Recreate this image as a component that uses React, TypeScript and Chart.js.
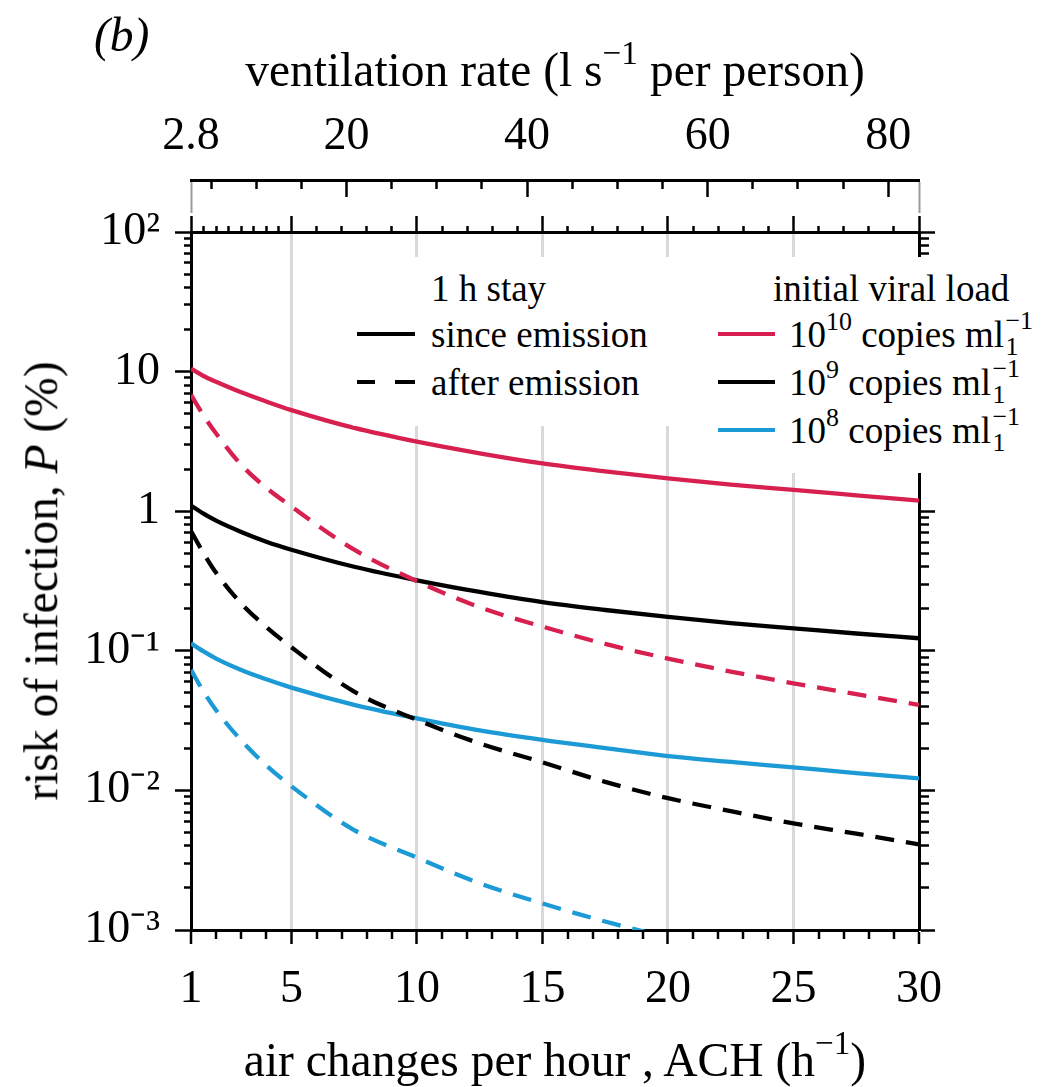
import React, { useEffect, useRef } from 'react';
import { Chart, registerables } from 'chart.js';

Chart.register(...registerables);

// ---------- data ----------
const ACH = [1, 1.5, 2, 3, 4, 5, 7.5, 10, 12.5, 15, 17.5, 20, 22.5, 25, 27.5, 30];
const SINCE_1E10 = [10.5, 9.3, 8.45, 7.1, 6.1, 5.3, 3.95, 3.15, 2.6, 2.2, 1.93, 1.72, 1.55, 1.42, 1.3, 1.19];
const SINCE_1E9 = [1.1, 0.96, 0.855, 0.71, 0.605, 0.53, 0.4, 0.32, 0.264, 0.223, 0.196, 0.175, 0.158, 0.145, 0.133, 0.123];
const SINCE_1E8 = [0.113, 0.099, 0.088, 0.0728, 0.0625, 0.0545, 0.041, 0.0328, 0.0269, 0.023, 0.0201, 0.0176, 0.016, 0.0146, 0.0133, 0.0122];
const AFTER_1E10 = [6.8, 4.85, 3.6, 2.15, 1.47, 1.08, 0.53, 0.315, 0.205, 0.149, 0.112, 0.088, 0.071, 0.0585, 0.049, 0.041];
const AFTER_1E9 = [0.72, 0.5, 0.362, 0.218, 0.148, 0.106, 0.051, 0.032, 0.0217, 0.0159, 0.0115, 0.0088, 0.0071, 0.0058, 0.0049, 0.0041];
const AFTER_1E8 = [0.073, 0.051, 0.0375, 0.0228, 0.0151, 0.0107, 0.0052, 0.0033, 0.00216, 0.00155, 0.00115, 0.00088, null, null, null, null];

// ---------- axes ----------
const X_MIN = 1;
const X_MAX = 30;
const X_MAJOR = [1, 5, 10, 15, 20, 25, 30];
const X_BOTTOM_TICKS: number[] = [];
for (let v = 1; v <= 30; v += 1) X_BOTTOM_TICKS.push(v);
const X_TOP_TICKS: number[] = [];
for (let v = 1; v < 5; v += 0.5) X_TOP_TICKS.push(v);
for (let v = 5; v <= 30; v += 1) X_TOP_TICKS.push(v);

const VENT_PER_ACH = 2.78; // l/s per person for 1 ACH
const VENT_MIN = VENT_PER_ACH * X_MIN;
const VENT_MAX = VENT_PER_ACH * X_MAX;
const VENT_MAJOR = [20, 40, 60, 80];
const VENT_TICKS: number[] = [VENT_MIN];
for (let v = 5; v <= 80; v += 5) VENT_TICKS.push(v);
VENT_TICKS.push(VENT_MAX);

const Y_MIN = 1e-3;
const Y_MAX = 1e2;
const Y_MAJOR = [1e-3, 1e-2, 1e-1, 1, 10, 100];
const Y_LABELS = ['10\u207B\u00B3', '10\u207B\u00B2', '10\u207B\u00B9', '1', '10', '10\u00B2'];
const Y_TICKS: number[] = [];
for (let k = -3; k <= 1; k++) for (let m = 1; m <= 9; m++) Y_TICKS.push(Number((m * Math.pow(10, k)).toPrecision(6)));
Y_TICKS.push(100);

// ---------- style ----------
const SERIF = "'Liberation Serif', 'Times New Roman', Times, serif";
const RED = '#d7204f';
const BLACK = '#000000';
const BLUE = '#1b9ad6';
const GRID = '#d9d9d9';
const W = 1053;
const H = 1087;
const AREA = { left: 191, right: 919, top: 232, bottom: 930 };
const VENT_LINE_PX_ABOVE = 52;

const near = (a: number, b: number) => Math.abs(a - b) < 1e-6;
const isXMajor = (v: number) => X_MAJOR.some((m) => near(m, v));
const isYMajor = (v: number) => Y_MAJOR.some((m) => Math.abs(m - v) / m < 1e-6);
const isVentEnd = (v: number) => near(v, VENT_MIN) || near(v, VENT_MAX);
const isVentMajor = (v: number) => VENT_MAJOR.some((m) => near(m, v));

function series(label: string, vals: (number | null)[], color: string, dashed: boolean) {
  return {
    label,
    data: ACH.map((x, i) => ({ x, y: vals[i] })),
    borderColor: color,
    backgroundColor: color,
    borderWidth: 4.3,
    borderDash: dashed ? [19, 12] : [],
    pointRadius: 0,
    fill: false,
    cubicInterpolationMode: 'monotone' as const,
    spanGaps: false,
    xAxisID: 'x',
    yAxisID: 'y',
  };
}

function Sup({ children, size }: { children: any; size: number }) {
  return (
    <span style={{ fontSize: size * 0.7, position: 'relative', top: -size * 0.45, lineHeight: 0 }}>{children}</span>
  );
}

function MlUnit({ size }: { size: number }) {
  const s = size * 0.7;
  return (
    <span>
      ml
      <span style={{ display: 'inline-block', position: 'relative', width: size * 0.78, height: 1 }}>
        <span style={{ position: 'absolute', left: size * 0.04, top: -size * 0.45 - s * 0.82, fontSize: s, lineHeight: 1 }}>{'\u22121'}</span>
        <span style={{ position: 'absolute', left: size * 0.04, top: size * 0.25 - s * 0.82, fontSize: s, lineHeight: 1 }}>1</span>
      </span>
    </span>
  );
}

function Txt({ x, y, size, children, style }: { x: number; y: number; size: number; children: any; style?: any }) {
  return (
    <div
      style={{
        position: 'absolute',
        left: x,
        top: y - size * 0.49,
        fontSize: size,
        lineHeight: 1,
        whiteSpace: 'nowrap',
        fontFamily: SERIF,
        color: '#000',
        ...style,
      }}
    >
      {children}
    </div>
  );
}

function LineSample({ x, y, len, color, dashed }: { x: number; y: number; len: number; color: string; dashed?: boolean }) {
  if (!dashed) {
    return <div style={{ position: 'absolute', left: x, top: y - 2, width: len, height: 4, background: color }} />;
  }
  return (
    <>
      <div style={{ position: 'absolute', left: x, top: y - 2, width: 18, height: 4, background: color }} />
      <div style={{ position: 'absolute', left: x + 38, top: y - 2, width: len - 38, height: 4, background: color }} />
    </>
  );
}

export default function App() {
  const ref = useRef<HTMLCanvasElement | null>(null);

  useEffect(() => {
    if (!ref.current) return;
    const ventLineValue = Math.pow(10, Math.log10(Y_MAX) + VENT_LINE_PX_ABOVE / ((AREA.bottom - AREA.top) / 5));
    const tickFont = { family: SERIF, size: 46 };
    const chart = new Chart(ref.current, {
      type: 'line',
      data: {
        datasets: [
          series('10^9 after emission', AFTER_1E9, BLACK, true),
          series('10^8 after emission', AFTER_1E8, BLUE, true),
          series('10^10 after emission', AFTER_1E10, RED, true),
          series('10^9 since emission', SINCE_1E9, BLACK, false),
          series('10^8 since emission', SINCE_1E8, BLUE, false),
          series('10^10 since emission', SINCE_1E10, RED, false),
        ],
      },
      options: {
        animation: false,
        responsive: false,
        devicePixelRatio: 1,
        events: [],
        layout: { padding: 0 },
        plugins: { legend: { display: false }, tooltip: { enabled: false }, title: { display: false } },
        scales: {
          x: {
            type: 'linear',
            axis: 'x',
            position: 'bottom',
            min: X_MIN,
            max: X_MAX,
            afterBuildTicks: (s: any) => {
              s.ticks = X_BOTTOM_TICKS.map((v) => ({ value: v }));
            },
            afterFit: (s: any) => {
              s.height = H - AREA.bottom;
            },
            ticks: {
              autoSkip: false,
              maxRotation: 0,
              minRotation: 0,
              padding: 18,
              color: '#000',
              font: tickFont,
              callback: (v: any) => (isXMajor(Number(v)) ? String(v) : ''),
            },
            grid: {
              drawOnChartArea: true,
              drawTicks: true,
              tickLength: 14,
              color: (c: any) => {
                const v = c.tick ? c.tick.value : 0;
                return isXMajor(v) && v > X_MIN && v < X_MAX ? GRID : 'rgba(0,0,0,0)';
              },
              lineWidth: (c: any) => {
                const v = c.tick ? c.tick.value : 0;
                return isXMajor(v) && v > X_MIN && v < X_MAX ? 3 : 0;
              },
              tickColor: '#000',
              tickWidth: 2.5,
              tickBorderDash: (c: any) => (c.tick && isXMajor(c.tick.value) ? [] : [7, 100]),
            },
            border: { display: true, color: '#000', width: 3 },
          },
          xTop: {
            type: 'linear',
            axis: 'x',
            position: 'top',
            min: X_MIN,
            max: X_MAX,
            afterBuildTicks: (s: any) => {
              s.ticks = X_TOP_TICKS.map((v) => ({ value: v }));
            },
            afterFit: (s: any) => {
              s.height = AREA.top;
            },
            ticks: { display: false },
            grid: {
              drawOnChartArea: false,
              drawTicks: true,
              tickLength: 16,
              tickColor: '#000',
              tickWidth: 2.5,
              tickBorderDash: (c: any) => (c.tick && isXMajor(c.tick.value) ? [] : [0, 10, 6, 100]),
            },
            border: { display: true, color: '#000', width: 3 },
          },
          vent: {
            type: 'linear',
            axis: 'x',
            position: { y: ventLineValue },
            min: VENT_MIN,
            max: VENT_MAX,
            afterBuildTicks: (s: any) => {
              s.ticks = VENT_TICKS.map((v) => ({ value: v }));
            },
            ticks: {
              autoSkip: false,
              maxRotation: 0,
              minRotation: 0,
              padding: -102,
              color: '#000',
              font: tickFont,
              callback: (v: any) => {
                const n = Number(v);
                if (near(n, VENT_MIN)) return '2.8';
                return isVentMajor(n) ? String(n) : '';
              },
            },
            grid: {
              drawOnChartArea: false,
              drawTicks: true,
              tickLength: 31,
              tickColor: (c: any) => (c.tick && isVentEnd(c.tick.value) ? '#9a9a9a' : '#000'),
              tickWidth: (c: any) => (c.tick && isVentEnd(c.tick.value) ? 2 : 2.5),
              tickBorderDash: (c: any) => {
                const v = c.tick ? c.tick.value : 0;
                if (isVentEnd(v)) return [];
                return isVentMajor(v) ? [15, 100] : [7, 100];
              },
            },
            border: { display: true, color: '#000', width: 3 },
          },
          y: {
            type: 'logarithmic',
            axis: 'y',
            position: 'left',
            min: Y_MIN,
            max: Y_MAX,
            afterBuildTicks: (s: any) => {
              s.ticks = Y_TICKS.map((v) => ({ value: v }));
            },
            afterFit: (s: any) => {
              s.width = AREA.left;
            },
            ticks: {
              autoSkip: false,
              padding: 15,
              color: '#000',
              font: tickFont,
              callback: (v: any) => {
                const n = Number(v);
                const idx = Y_MAJOR.findIndex((m) => Math.abs(m - n) / m < 1e-6);
                return idx >= 0 ? Y_LABELS[idx] : '';
              },
            },
            grid: {
              drawOnChartArea: false,
              drawTicks: true,
              tickLength: 16,
              tickColor: '#000',
              tickWidth: 2.5,
              tickBorderDash: (c: any) => (c.tick && isYMajor(c.tick.value) ? [] : [0, 9, 7, 100]),
            },
            border: { display: true, color: '#000', width: 3 },
          },
          yRight: {
            type: 'logarithmic',
            axis: 'y',
            position: 'right',
            min: Y_MIN,
            max: Y_MAX,
            afterBuildTicks: (s: any) => {
              s.ticks = Y_TICKS.map((v) => ({ value: v }));
            },
            afterFit: (s: any) => {
              s.width = W - AREA.right;
            },
            ticks: { display: false },
            grid: {
              drawOnChartArea: false,
              drawTicks: true,
              tickLength: 16,
              tickColor: '#000',
              tickWidth: 2.5,
              tickBorderDash: (c: any) => (c.tick && isYMajor(c.tick.value) ? [] : [8, 100]),
            },
            border: { display: true, color: '#000', width: 3 },
          },
        },
      } as any,
    });
    return () => chart.destroy();
  }, []);

  const LF = 37; // legend font size
  const TF = 47.5; // axis title font size
  return (
    <div style={{ position: 'absolute', left: 0, top: 0, width: W, height: H, background: '#fff', overflow: 'hidden', fontFamily: SERIF }}>
      <canvas ref={ref} width={W} height={H} style={{ position: 'absolute', left: 0, top: 0, width: W, height: H }} />

      {/* panel label */}
      <Txt x={94} y={35} size={TF} style={{ fontStyle: 'italic' }}>(b)</Txt>

      {/* top axis title */}
      <Txt x={555} y={70} size={TF} style={{ transform: 'translateX(-50%)' }}>
        ventilation rate (l s<Sup size={TF}>{'\u22121'}</Sup> per person)
      </Txt>

      {/* bottom axis title */}
      <Txt x={555} y={1060} size={TF} style={{ transform: 'translateX(-50%)' }}>
        air changes per hour , ACH (h<Sup size={TF}>{'\u22121'}</Sup>)
      </Txt>

      {/* y axis title */}
      <div
        style={{
          position: 'absolute',
          left: 42,
          top: 581,
          transform: 'translate(-50%, -50%) rotate(-90deg)',
          fontSize: TF,
          lineHeight: 1,
          whiteSpace: 'nowrap',
          fontFamily: SERIF,
        }}
      >
        risk of infection, <i>P</i> (%)
      </div>

      {/* legend 1 */}
      <div style={{ position: 'absolute', left: 353, top: 257, width: 337, height: 169, background: '#fff' }} />
      <Txt x={431} y={288} size={LF}>1 h stay</Txt>
      <LineSample x={357} y={334} len={58} color={BLACK} />
      <Txt x={431} y={334} size={LF}>since emission</Txt>
      <LineSample x={357} y={382} len={58} color={BLACK} dashed />
      <Txt x={431} y={382} size={LF}>after emission</Txt>

      {/* legend 2 */}
      <div style={{ position: 'absolute', left: 700, top: 257, width: 345, height: 216, background: '#fff' }} />
      <Txt x={773} y={288} size={LF}>initial viral load</Txt>
      <LineSample x={718} y={334} len={57} color={RED} />
      <Txt x={789} y={334} size={LF}>
        10<Sup size={LF}>10</Sup> copies <MlUnit size={LF} />
      </Txt>
      <LineSample x={718} y={382} len={57} color={BLACK} />
      <Txt x={789} y={382} size={LF}>
        10<Sup size={LF}>9</Sup> copies <MlUnit size={LF} />
      </Txt>
      <LineSample x={718} y={430} len={57} color={BLUE} />
      <Txt x={789} y={430} size={LF}>
        10<Sup size={LF}>8</Sup> copies <MlUnit size={LF} />
      </Txt>
    </div>
  );
}
